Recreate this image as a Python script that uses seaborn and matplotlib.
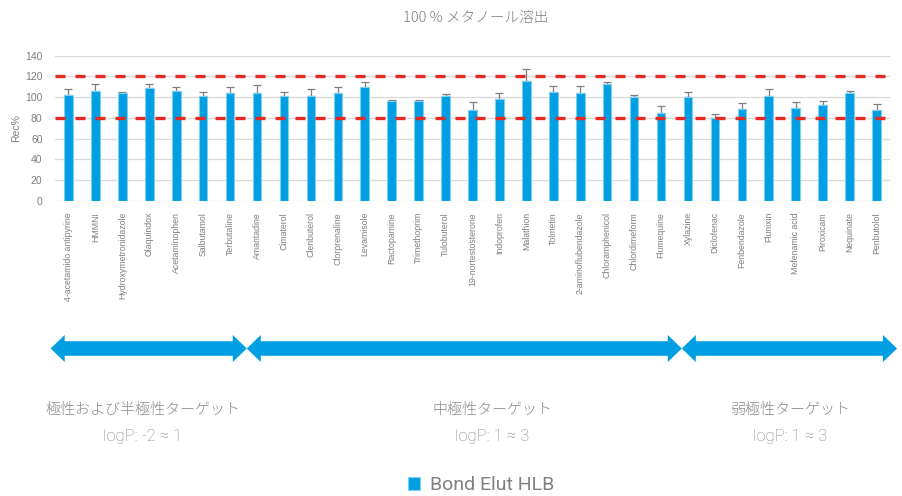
import numpy as np
import pandas as pd
import matplotlib
matplotlib.use("Agg")
import matplotlib.pyplot as plt
import matplotlib.transforms as mtransforms
from matplotlib.patches import Polygon
import seaborn as sns

# ---------- Data ----------
compounds = [
    "4-acetamido antipyrine", "HMMNI", "Hydroxymetronidazole", "Olaquindox",
    "Acetaminophen", "Salbutamol", "Terbutaline", "Amantadine", "Cimaterol",
    "Clenbuterol", "Clorprenaline", "Levamisole", "Ractopamine", "Trimethoprim",
    "Tulobuterol", "19-nortestosterone", "Indoprofen", "Malathion", "Tolmetin",
    "2-aminoflubendazole", "Chloramphenicol", "Chlordimeform", "Flumequine",
    "Xylazine", "Diclofenac", "Fenbendazole", "Flunixin", "Mefenamic acid",
    "Piroxicam", "Nequinate", "Penbutolol",
]
recovery = [102, 106, 104, 109, 106, 101, 104, 104, 101,
            101.5, 104, 110, 96, 96, 101, 88, 98.5, 115.5, 105,
            104, 113, 100.5, 85, 100, 80, 88.5, 101, 90, 92.5, 104, 87.5]
rsd = [5.5, 6.5, 1.5, 4, 4, 4, 5.5, 7.5, 4,
       6, 5.5, 5, 1, 1, 2.5, 7.5, 6, 12, 6,
       6.5, 1.5, 2, 7, 5.5, 4, 6, 7, 5, 3.5, 2, 6]
limits = [80, 120]

groups = ["極性および半極性ターゲット", "中極性ターゲット", "弱極性ターゲット"]
group_logp = ["logP: -2 ≈ 1", "logP: 1 ≈ 3", "logP: 1 ≈ 3"]
# arrow extents (category units) and text centres
arrow_spans = [(-0.66, 6.62), (6.62, 22.77), (22.77, 30.76)]
text_x = [2.76, 15.73, 26.79]

df = pd.DataFrame({"compound": compounds, "rec": recovery, "rsd": rsd})

BLUE = "#009fe3"
GRAY = "#7f7f7f"

# ---------- Plot ----------
sns.set_style("white")
plt.rcParams["font.family"] = ["Liberation Sans", "DejaVu Sans"]

fig = plt.figure(figsize=(9.02, 4.96), dpi=100)
ax = fig.add_axes([55 / 902, 1 - 201 / 496, 835 / 902, 145.3 / 496])

sns.barplot(data=df, x="compound", y="rec", color=BLUE, saturation=1,
            width=0.32, edgecolor="#7dd0f2", linewidth=0.8, errorbar=None,
            ax=ax, zorder=3)

xs = np.arange(len(df))
ax.errorbar(xs, df["rec"], yerr=[np.zeros(len(df)), df["rsd"]], fmt="none",
            ecolor=GRAY, elinewidth=0.9, capsize=3, capthick=0.9, zorder=2)

for lim in limits:
    ax.axhline(lim, color="#e62a21", linewidth=2.4, dashes=(3, 3), zorder=4)

ax.set_ylim(0, 140)
ax.set_xlim(-0.5, len(df) - 0.5)
ax.set_yticks(range(0, 141, 20))
ax.grid(axis="y", color="#d9d9d9", linewidth=0.9, zorder=0)
ax.set_axisbelow(True)
for s in ax.spines.values():
    s.set_visible(False)

ax.set_xlabel("")
ax.set_ylabel("Rec%", fontsize=7.5, color=GRAY, labelpad=3)
ax.tick_params(axis="y", length=0, pad=9, labelsize=7.5, labelcolor=GRAY)
ax.tick_params(axis="x", length=0, pad=8, labelsize=6.3, labelcolor=GRAY)
plt.setp(ax.get_xticklabels(), rotation=90, va="top", ha="center")

fig.text(476 / 902, 1 - 18 / 496, "100 % メタノール溶出", ha="center", va="center",
         fontsize=10.5, color=GRAY, family=["Noto Sans CJK JP", "DejaVu Sans"],
         fontweight="light")

# ---------- Group arrows ----------
trans = mtransforms.blended_transform_factory(ax.transData, fig.transFigure)
yc = 1 - 348.5 / 496
body = 7.3 / 496
head = 13.5 / 496
hl = 0.52
for x0, x1 in arrow_spans:
    pts = [(x0, yc), (x0 + hl, yc + head), (x0 + hl, yc + body),
           (x1 - hl, yc + body), (x1 - hl, yc + head), (x1, yc),
           (x1 - hl, yc - head), (x1 - hl, yc - body), (x0 + hl, yc - body),
           (x0 + hl, yc - head)]
    fig.add_artist(Polygon(pts, closed=True, transform=trans, color=BLUE,
                           clip_on=False, linewidth=0))

jp = ["Noto Sans CJK JP", "DejaVu Sans"]
for x, g, lp in zip(text_x, groups, group_logp):
    fig.text(x, 1 - 410 / 496, g, transform=trans, ha="center", va="center",
             fontsize=10.8, color="#8a8a8a", family=jp, fontweight="light")
    fig.text(x, 1 - 437 / 496, lp, transform=trans, ha="center", va="center",
             fontsize=12, color="#858585", family=["Roboto", "DejaVu Sans"],
             fontweight="light")

# ---------- Legend ----------
handle = ax.patches[0]
leg = fig.legend([handle], ["Bond Elut HLB"], loc="center",
                 bbox_to_anchor=(481 / 902, 1 - 485 / 496), frameon=False,
                 handlelength=0.65, handleheight=0.65, handletextpad=0.5,
                 prop={"family": "Roboto", "size": 14})
for t in leg.get_texts():
    t.set_color("#808080")

fig.savefig("out.png", dpi=100)
